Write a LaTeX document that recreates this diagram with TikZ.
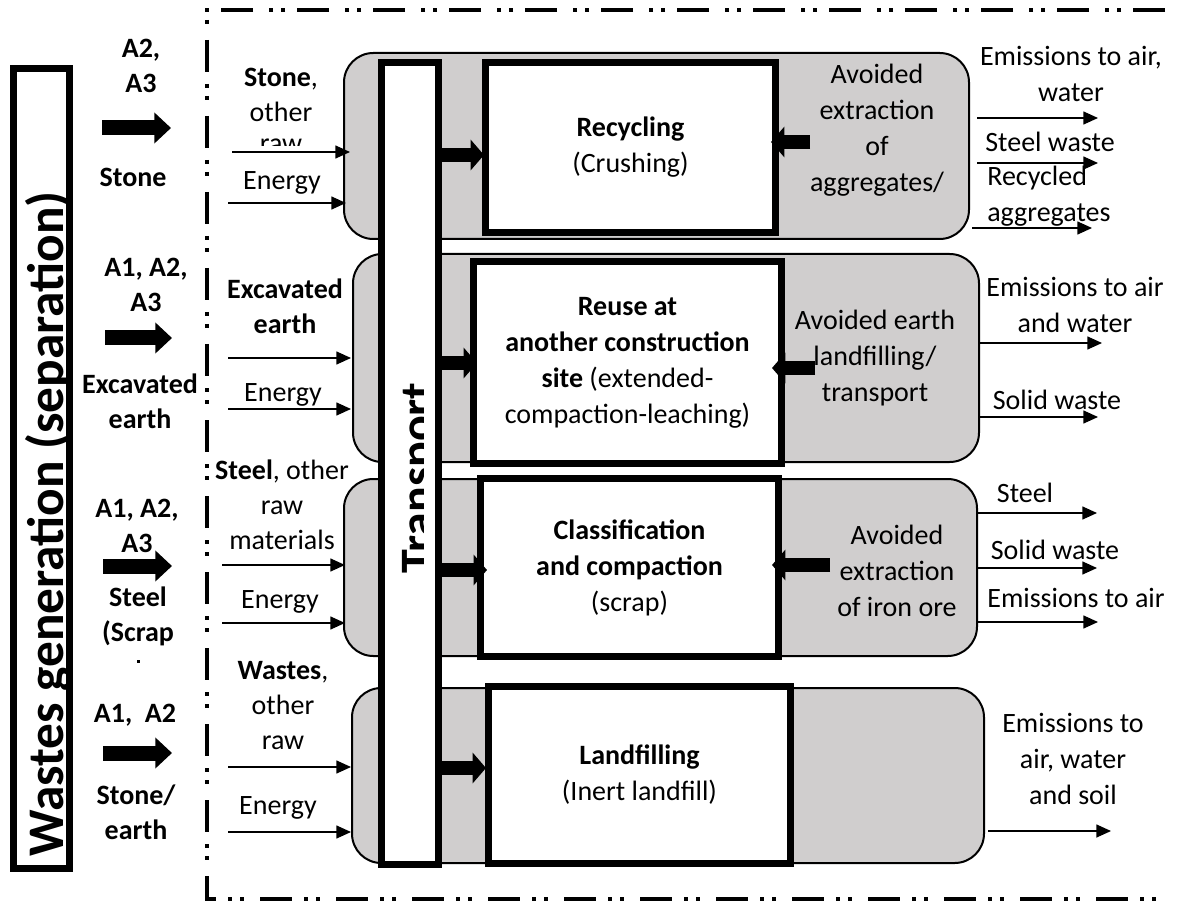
\documentclass[tikz,border=0pt]{standalone}
\usepackage{fontspec}
\setmainfont{Carlito}
\usetikzlibrary{arrows.meta}
\definecolor{boxgray}{RGB}{208,206,206}
\begin{document}
\begin{tikzpicture}[x=0.75pt,y=-0.75pt,
  txt/.style={font=\fontsize{21}{27}\selectfont, align=center, inner sep=0pt},
  inp/.style={font=\fontsize{21}{26.25}\selectfont, align=center, inner sep=0pt},
  lbl/.style={font=\bfseries\fontsize{21}{26.25}\selectfont, align=center, inner sep=0pt},
  bigtxt/.style={font=\bfseries\fontsize{36}{40}\selectfont, inner sep=0pt},
  wastetxt/.style={font=\bfseries\fontsize{38.5}{42}\selectfont, inner sep=0pt},
  graybox/.style={rectangle, fill=boxgray, draw=black, line width=1.5pt, rounded corners=22pt},
  whitebox/.style={rectangle, fill=white, draw=black, line width=5.25pt},
  thin arrow/.style={line width=1pt, -{Triangle[length=11pt,width=9.75pt]}},
  block arrow/.style={line width=10pt, -{Triangle[length=10pt,width=22.5pt]}},
  wide arrow/.style={line width=11.25pt, -{Triangle[length=12.5pt,width=22.5pt]}},
  boundary/.style={line width=3pt, dash pattern=on 24pt off 9pt on 3pt off 6pt on 3pt off 12pt},
]
\useasboundingbox (0,0) rectangle (1177,905);

% system boundary
\draw[boundary] (1165,10) -- (207,10) -- (207,899) -- (1165,899);

% grey process bands
\node[graybox, minimum width=468.75pt, minimum height=139.5pt] (g1) at (656.5,146) {};
\node[graybox, minimum width=469.5pt, minimum height=156pt] (g2) at (666,358) {};
\node[graybox, minimum width=474.75pt, minimum height=132.75pt] (g3) at (660.5,567.5) {};
\node[graybox, minimum width=474pt, minimum height=131.25pt] (g4) at (668,775.5) {};

% transport column
\node[whitebox, minimum width=42.75pt, minimum height=601.5pt] (transport) at (410,463.5) {};
\begin{scope}
  \clip (385,62) rectangle (423,865);
  \node[bigtxt, rotate=90, anchor=base] (transporttext) at (433,478) {Transport};
\end{scope}

% process boxes
\node[whitebox, txt, minimum width=217.5pt, minimum height=127.5pt] (recycling) at (630.5,147.5)
  {\textbf{Recycling}\\(Crushing)};
\node[whitebox, txt, minimum width=231pt, minimum height=151.5pt] (reuse) at (627.5,362.5)
  {\textbf{Reuse at}\\\textbf{another construction}\\\textbf{site} (extended-\\compaction-leaching)};
\node[whitebox, txt, minimum width=223.5pt, minimum height=133.5pt] (classif) at (629.5,567.5)
  {\textbf{Classification}\\\textbf{and compaction}\\(scrap)};
\node[whitebox, txt, minimum width=226.5pt, minimum height=132.75pt] (landfill) at (639.5,775)
  {\textbf{Landfilling}\\(Inert landfill)};

% wastes generation box
\node[whitebox, minimum width=42pt, minimum height=600pt] (wastes) at (41.5,468.5) {};
\node[wastetxt, rotate=90, anchor=base] (wastestext) at (63,524) {Wastes generation (separation)};

% left labels
\node[lbl] (l1a) at (141,66) {A2,\\A3};
\node[lbl] (l1b) at (133,177) {Stone};
\node[lbl] (l2a) at (146,285) {A1, A2,\\A3};
\node[lbl] (l2b) at (140,401) {Excavated\\earth};
\node[lbl] (l3a) at (137,526) {A1, A2,\\A3};
\node[lbl] (l3b) at (138,616) {Steel\\(Scrap};
\fill (136.5,660) rectangle (139.5,662.5);
\node[lbl] (l4a) at (135,715) {A1,\ \ A2};
\node[lbl] (l4b) at (136,812) {Stone/\\earth};

\coordinate (a1s) at (102,128); \coordinate (a1e) at (171,128);
\coordinate (a2s) at (105,338); \coordinate (a2e) at (172,338);
\coordinate (a3s) at (103,566); \coordinate (a3e) at (172,566);
\coordinate (a4s) at (103,753); \coordinate (a4e) at (172,753);
\foreach \n in {a1,a2,a3,a4} \draw[wide arrow] (\n s) -- (\n e);

% inputs
\node[inp] (i1) at (281,95) {\textbf{Stone},\\other};
\begin{scope}
  \clip (240,120) rectangle (330,146);
  \node[inp, anchor=base] (i1raw) at (281,153) {raw};
\end{scope}
\node[inp] (e1) at (282,183) {Energy};
\node[inp] (i2) at (285,306) {\textbf{Excavated}\\\textbf{earth}};
\node[inp] (e2) at (283,395) {Energy};
\node[inp] (i3) at (282,505) {\textbf{Steel}, other\\raw\\materials};
\node[inp] (e3) at (280,602) {Energy};
\node[inp] (i4) at (283,706) {\textbf{Wastes},\\other\\raw};
\node[inp] (e4) at (278,808) {Energy};

\coordinate (i1s) at (232,152); \coordinate (i1e) at (350,152);
\coordinate (e1s) at (228,203); \coordinate (e1e) at (346,203);
\coordinate (i2s) at (228,358); \coordinate (i2e) at (351,358);
\coordinate (e2s) at (228,409); \coordinate (e2e) at (351,409);
\coordinate (i3s) at (222,565); \coordinate (i3e) at (345,565);
\coordinate (e3s) at (222,623); \coordinate (e3e) at (345,623);
\coordinate (i4s) at (228,767); \coordinate (i4e) at (351,767);
\coordinate (e4s) at (228,832); \coordinate (e4e) at (351,832);
\foreach \n in {i1,e1,i2,e2,i3,e3,i4,e4} \draw[thin arrow] (\n s) -- (\n e);

% transport to process arrows
\coordinate (t1s) at (442,155); \coordinate (t1e) at (484,155);
\coordinate (t2s) at (442,363); \coordinate (t2e) at (477,363);
\coordinate (t3s) at (442,570); \coordinate (t3e) at (487,570);
\coordinate (t4s) at (442,768); \coordinate (t4e) at (486,768);
\foreach \n in {t1,t2,t3,t4} \draw[block arrow] (\n s) -- (\n e);

% avoided burdens
\node[txt] (av1) at (877,130) {Avoided\\extraction\\of\\aggregates/};
\node[txt] (av2) at (875,358) {Avoided earth\\landfilling/\\transport};
\node[txt] (av3) at (897,571) {Avoided\\extraction\\of iron ore};
\coordinate (r1s) at (810,142); \coordinate (r1e) at (771,142);
\coordinate (r2s) at (815,368); \coordinate (r2e) at (772,368);
\coordinate (r3s) at (830,565); \coordinate (r3e) at (772,565);
\foreach \n in {r1,r2,r3} \draw[block arrow] (\n s) -- (\n e);

% outputs
\node[txt] (o1a) at (1071,74) {Emissions to air,\\water};
\node[txt] (o1b) at (1050,142) {Steel waste};
\node[txt, align=left, anchor=west] (o1c) at (987,196) {Recycled\\aggregates};
\node[txt] (o2a) at (1075,305) {Emissions to air\\and water};
\node[txt] (o2b) at (1057,400) {Solid waste};
\node[txt] (o3a) at (1025,493) {Steel};
\node[txt] (o3b) at (1055,550) {Solid waste};
\node[txt] (o3c) at (1076,598) {Emissions to air};
\node[txt] (o4) at (1073,759) {Emissions to\\air, water\\and soil};

\coordinate (p1s) at (977,118); \coordinate (p1e) at (1098,118);
\coordinate (p2s) at (977,163); \coordinate (p2e) at (1098,163);
\coordinate (p3s) at (972,228); \coordinate (p3e) at (1092,228);
\coordinate (p4s) at (980,343); \coordinate (p4e) at (1102,343);
\coordinate (p5s) at (980,417); \coordinate (p5e) at (1098,417);
\coordinate (p6s) at (978,513); \coordinate (p6e) at (1097,513);
\coordinate (p7s) at (978,568); \coordinate (p7e) at (1097,568);
\coordinate (p8s) at (978,622); \coordinate (p8e) at (1098,622);
\coordinate (p9s) at (988,831); \coordinate (p9e) at (1111,831);
\foreach \n in {p1,p2,p3,p4,p5,p6,p7,p8,p9} \draw[thin arrow] (\n s) -- (\n e);

\end{tikzpicture}
\end{document}
